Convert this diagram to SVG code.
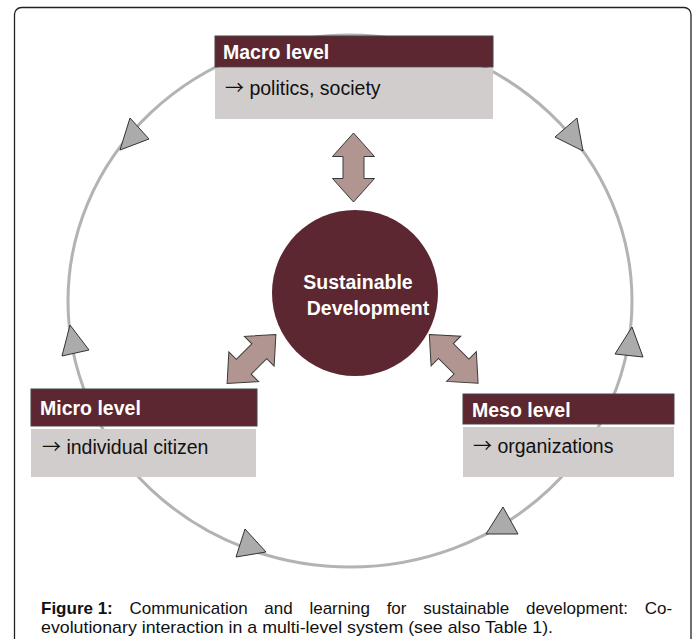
<svg xmlns="http://www.w3.org/2000/svg" width="696" height="639" viewBox="0 0 696 639">
<style>
.hdr{fill:#5c2731;stroke:#444;stroke-width:1}
.body{fill:#d0cdcc}
.htxt{font-family:"Liberation Sans",Arial,sans-serif;font-weight:bold;font-size:19.5px;fill:#ffffff}
.btxt{font-family:"Liberation Sans",Arial,sans-serif;font-size:19.5px;fill:#111}
.arr{font-family:"Noto Sans CJK JP",sans-serif;font-size:19px}
.tri{fill:#ababab;stroke:#333;stroke-width:1;stroke-linejoin:miter}
.dbl{fill:#b09590;stroke:#3a3a3a;stroke-width:1}
.cap{font-family:"Liberation Sans",Arial,sans-serif;font-size:17px;fill:#111}
</style>
<defs>
<path id="dblArrow" d="M-34.5,0 L-11,-21 L-11,-10.5 L11,-10.5 L11,-21 L34.5,0 L11,21 L11,10.5 L-11,10.5 L-11,21 Z"/>
</defs>
<rect x="0" y="0" width="696" height="639" fill="#ffffff"/>
<rect x="14.5" y="7.5" width="676.5" height="645" rx="7" ry="7" fill="none" stroke="#222" stroke-width="1.3"/>

<g id="connectors">
  <ellipse cx="350" cy="301" rx="282" ry="266" fill="none" stroke="#b3b3b3" stroke-width="3"/>
  <polygon class="tri" points="130,118 149,139 120,150"/>
  <polygon class="tri" points="70,325 89,350 62,356"/>
  <polygon class="tri" points="577,118 583,151 555,137"/>
  <polygon class="tri" points="632,327 643,357 615,354"/>
  <polygon class="tri" points="245,529 266,552 236,557"/>
  <polygon class="tri" points="503,507 518,534 486,534"/>
  <use href="#dblArrow" class="dbl" transform="translate(353.5,167.5) rotate(90)"/>
  <use href="#dblArrow" class="dbl" transform="translate(251.5,359) rotate(-45)"/>
  <use href="#dblArrow" class="dbl" transform="translate(453.7,358.8) rotate(45)"/>
</g>

<g id="node-center">
  <circle cx="355" cy="293" r="83" fill="#5c2731"/>
  <text class="htxt" x="358" y="289" text-anchor="middle" fill="#f2ecec">Sustainable</text>
  <text class="htxt" x="368" y="315" text-anchor="middle" fill="#f2ecec">Development</text>
</g>

<g id="node-macro">
  <rect class="hdr" x="215" y="36" width="278" height="31"/>
  <rect class="body" x="215" y="68" width="278" height="51"/>
  <text class="htxt" x="223" y="59">Macro level</text>
  <text class="btxt" x="225" y="95"><tspan class="arr">→</tspan> politics, society</text>
</g>

<g id="node-micro">
  <rect class="hdr" x="31" y="389" width="226" height="37"/>
  <rect class="body" x="31" y="429" width="225" height="48"/>
  <text class="htxt" x="40" y="415">Micro level</text>
  <text class="btxt" x="42" y="454"><tspan class="arr">→</tspan> individual citizen</text>
</g>

<g id="node-meso">
  <rect class="hdr" x="463" y="394" width="211" height="30"/>
  <rect class="body" x="463" y="427" width="211" height="50"/>
  <text class="htxt" x="472" y="417">Meso level</text>
  <text class="btxt" x="473" y="453"><tspan class="arr">→</tspan> organizations</text>
</g>

<g id="caption">
  <text class="cap" x="41" y="614" word-spacing="12"><tspan font-weight="bold" word-spacing="0">Figure 1:</tspan> Communication and learning for sustainable development: Co-</text>
  <text class="cap" x="41" y="633" textLength="512" lengthAdjust="spacingAndGlyphs">evolutionary interaction in a multi-level system (see also Table 1).</text>
</g>
</svg>
